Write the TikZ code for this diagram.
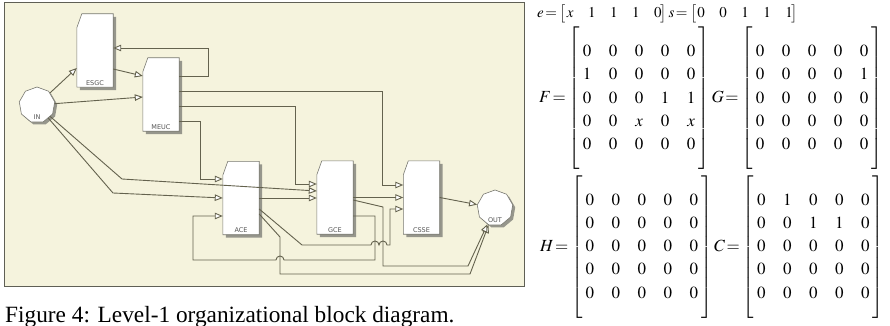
\documentclass[tikz,border=0pt]{standalone}
\usepackage{mathptmx}
\usepackage{fontspec}
\setmainfont{Liberation Serif}
\newfontfamily\blkfont{DejaVu Sans}
\usetikzlibrary{shapes.geometric,arrows.meta,backgrounds,shadows}
\definecolor{panelbg}{RGB}{245,243,221}
\definecolor{panelrule}{RGB}{95,95,85}
\definecolor{wirecol}{RGB}{100,98,78}
\definecolor{blkedge}{RGB}{120,120,112}
\definecolor{blkshade}{RGB}{150,150,140}
\definecolor{lblgray}{RGB}{85,85,85}
\newcommand\blockmat[1]{\left[\begin{array}{@{\hspace{3pt}}c*{4}{@{\hspace{17.5pt}}c}@{\hspace{3pt}}}#1\end{array}\right]}
\newcommand\rowvec[1]{\left[\begin{array}{@{\hspace{1pt}}c*{4}{@{\hspace{14.5pt}}c}@{\hspace{-1pt}}}#1\end{array}\right]}
\newcommand\eqs{\hspace{1.5pt}{=}\hspace{1pt}}
\begin{document}
\begin{tikzpicture}[x=1pt, y=-1pt,
  blk/.style={minimum width=36pt, minimum height=73pt, inner sep=1.5pt, text height=69pt, text depth=0pt, font=\blkfont\fontsize{6.5}{7}\selectfont, text=lblgray},
  port/.style={regular polygon, regular polygon sides=9, minimum size=36pt, inner sep=0pt, draw=blkedge, line width=0.6pt, fill=white, drop shadow={shadow xshift=2.5pt, shadow yshift=-2.5pt, fill=blkshade, opacity=1}},
  portlbl/.style={font=\blkfont\fontsize{6.5}{7}\selectfont, text=lblgray, inner sep=0pt, yshift=8pt},
  wire/.style={draw=wirecol, line width=0.9pt, -{Triangle[length=8pt, width=6.5pt, fill=white]}},
  vec/.style={anchor=west, inner sep=0pt, font=\fontsize{15}{18}\selectfont},
  mat/.style={anchor=west, inner sep=0pt, font=\fontsize{17}{20}\selectfont, execute at begin node={\delimitershortfall=-20pt\renewcommand\arraystretch{1.165}}}]
\useasboundingbox (0,0) rectangle (890,326);

\node (esgc) [blk] at (95,50.5) {ESGC};
\node (meuc) [blk] at (161,94.5) {MEUC};
\node (ace) [blk] at (241,198) {ACE};
\node (gce) [blk] at (335,197.5) {GCE};
\node (csse) [blk] at (421.5,197.5) {CSSE};
\node (inp) [port, label={[portlbl]south:IN}] at (37,105) {};
\node (outp) [port, label={[portlbl]south:OUT}] at (495,208) {};

\begin{scope}[on background layer]
\fill[panelbg] (4,3) rectangle (524,286);
\draw[panelrule, line width=1pt] (4,3) rectangle (524,286);
\foreach \b in {esgc,meuc,ace,gce,csse}{
  \fill[blkshade] ([shift={(3,3)}]\b.south west) -- ([shift={(3,3)}]\b.south east) -- ([shift={(3,3)}]\b.north east) -- ([shift={(8,3)}]\b.north west) -- ([shift={(3,17)}]\b.north west) -- cycle;
  \filldraw[fill=white, draw=blkedge, line width=0.6pt] (\b.south west) -- (\b.south east) -- (\b.north east) -- ([shift={(5,0)}]\b.north west) -- ([shift={(0,14)}]\b.north west) -- cycle;
}
\end{scope}

\draw[wire] (inp) -- ([shift={(0,17.5)}]esgc.west);
\draw[wire] (inp) -- ([shift={(0,2.5)}]meuc.west);
\draw[wire] ([shift={(0,18.5)}]esgc.east) -- ([shift={(0,-18.5)}]meuc.west);
\draw[wire] ([shift={(0,-18.5)}]meuc.east) -- ++(29,0) |- ([shift={(0,-2.5)}]esgc.east);
\draw[wire] ([shift={(0,-3.5)}]meuc.east) -- ++(203,0) |- ([shift={(0,-12.5)}]csse.west);
\draw[wire] ([shift={(0,11.5)}]meuc.east) -- ++(116,0) |- ([shift={(0,-13.5)}]gce.west);
\draw[wire] ([shift={(0,26.5)}]meuc.east) -- ++(21,0) |- ([shift={(0,-19)}]ace.west);
\draw[wire] (inp) -- (122,179) -- ([shift={(0,-6.5)}]gce.west);
\draw[wire] (inp) -- (113,193) -- (ace.west);
\draw[wire] (ace.east) -- (ace.east -| gce.west);
\draw[wire] (gce.east) -- (gce.east -| csse.west);
\draw[wire] ([shift={(0,11)}]ace.east) -- (302,245) -- (371,245) arc[start angle=180, end angle=0, radius=4pt] arc[start angle=180, end angle=0, radius=4pt] -- (390,245) |- ([shift={(0,11.5)}]csse.west);
\draw[wire] ([shift={(0,16)}]ace.east) -- (280,237) -- (280,274) -- (470,274) -- (outp);
\draw[wire] ([shift={(0,2.5)}]gce.east) -- (383,207) -- (383,266) -- (468,266) -- (outp);
\draw[wire] ([shift={(0,18.5)}]gce.east) -- (375,216) -- (375,260) -- (284,260) arc[start angle=0, end angle=180, radius=4pt] -- (193,260) |- ([shift={(0,18)}]ace.west);
\draw[wire] (csse.east) -- (outp);

\node (caption) [anchor=base west, inner sep=0pt, font=\fontsize{23.3}{28}\selectfont] at (5,322) {Figure 4: Level-1 organizational block diagram.};
\node (esvec) [vec] at (537,14) {$e\eqs\rowvec{x&1&1&1&0}s\eqs\rowvec{0&0&1&1&1}$};
\node (fgmat) [mat] at (539,98.5) {$F\eqs\blockmat{0&0&0&0&0\\1&0&0&0&0\\0&0&0&1&1\\0&0&x&0&x\\0&0&0&0&0}G\eqs\blockmat{0&0&0&0&0\\0&0&0&0&1\\0&0&0&0&0\\0&0&0&0&0\\0&0&0&0&0}$};
\node (hcmat) [mat] at (540,247) {$H\eqs\blockmat{0&0&0&0&0\\0&0&0&0&0\\0&0&0&0&0\\0&0&0&0&0\\0&0&0&0&0}C\eqs\blockmat{0&1&0&0&0\\0&0&1&1&0\\0&0&0&0&0\\0&0&0&0&0\\0&0&0&0&0}$};
\end{tikzpicture}
\end{document}
